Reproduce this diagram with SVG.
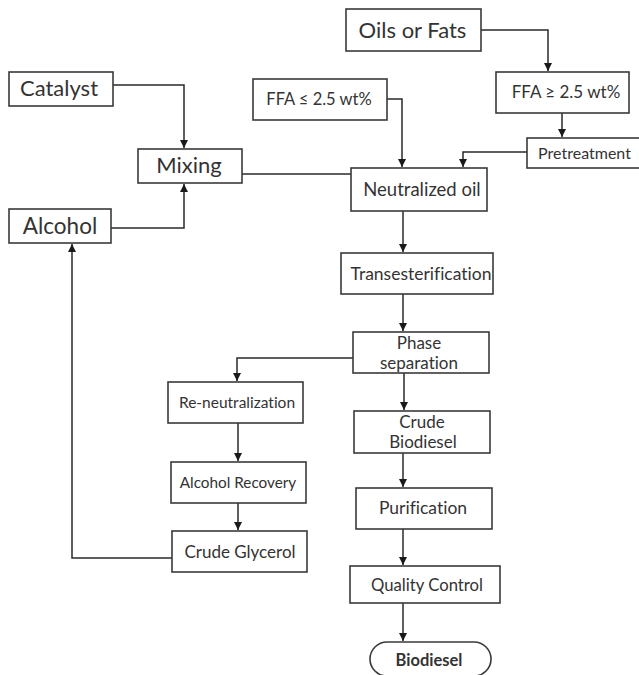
<svg xmlns="http://www.w3.org/2000/svg" width="639" height="675" viewBox="0 0 639 675">
<style>
.box{fill:#fff;stroke:#3a3a3a;stroke-width:1.6}
.t{font-family:Lato,"Open Sans","Liberation Sans",sans-serif;fill:#333;text-anchor:middle;font-variant-ligatures:none}
.c{fill:none;stroke:#2a2a2a;stroke-width:1.5}
</style>
<defs>
<marker id="ah" viewBox="0 0 10 10" refX="10" refY="5" markerWidth="8" markerHeight="8" markerUnits="userSpaceOnUse" orient="auto">
<path d="M0,0 L10,5 L0,10 z" fill="#1a1a1a"/>
</marker>
</defs>
<rect width="639" height="675" fill="#fff"/>
<g id="connectors">
<path class="c" d="M113,85 H184 V148" marker-end="url(#ah)"/>
<path class="c" d="M111,228 H184 V184" marker-end="url(#ah)"/>
<path class="c" d="M242,174 H351"/>
<path class="c" d="M481,30 H548 V71" marker-end="url(#ah)"/>
<path class="c" d="M562,113 V137" marker-end="url(#ah)"/>
<path class="c" d="M527,152 H463 V167" marker-end="url(#ah)"/>
<path class="c" d="M387,99 H402 V167" marker-end="url(#ah)"/>
<path class="c" d="M403,211 V252" marker-end="url(#ah)"/>
<path class="c" d="M403,294 V331" marker-end="url(#ah)"/>
<path class="c" d="M353,358 H237 V381" marker-end="url(#ah)"/>
<path class="c" d="M404,373 V410" marker-end="url(#ah)"/>
<path class="c" d="M238,423 V461" marker-end="url(#ah)"/>
<path class="c" d="M238,503 V530" marker-end="url(#ah)"/>
<path class="c" d="M172,558 H72 V244" marker-end="url(#ah)"/>
<path class="c" d="M403,453 V487" marker-end="url(#ah)"/>
<path class="c" d="M403,529 V565" marker-end="url(#ah)"/>
<path class="c" d="M403,603 V641" marker-end="url(#ah)"/>
</g>
<g id="catalyst"><rect class="box" x="9" y="72" width="104" height="34"/><text class="t" x="59" y="96" font-size="22">Catalyst</text></g>
<g id="mixing"><rect class="box" x="138" y="149" width="104" height="34"/><text class="t" x="189" y="173" font-size="22">Mixing</text></g>
<g id="alcohol"><rect class="box" x="9" y="209" width="102" height="34"/><text class="t" x="60" y="234" font-size="22.5">Alcohol</text></g>
<g id="oils"><rect class="box" x="346" y="9" width="135" height="42"/><text class="t" x="412.5" y="38" font-size="22">Oils or Fats</text></g>
<g id="ffa-low"><rect class="box" x="253" y="79" width="134" height="41"/><text class="t" x="319" y="105" font-size="16.5">FFA ≤ 2.5 wt%</text></g>
<g id="ffa-high"><rect class="box" x="496" y="72" width="133" height="41"/><text class="t" x="566" y="98" font-size="17">FFA ≥ 2.5 wt%</text></g>
<g id="pretreatment"><rect class="box" x="527" y="138" width="116" height="30"/><text class="t" x="584.5" y="159" font-size="16">Pretreatment</text></g>
<g id="neutralized"><rect class="box" x="351" y="168" width="136" height="43"/><text class="t" x="422" y="196" font-size="18.5">Neutralized oil</text></g>
<g id="transesterification"><rect class="box" x="341" y="253" width="152" height="41"/><text class="t" x="421" y="280" font-size="17.5">Transesterification</text></g>
<g id="phase"><rect class="box" x="353" y="332" width="136" height="41"/><text class="t" x="419" y="349" font-size="17">Phase</text><text class="t" x="419" y="369" font-size="17">separation</text></g>
<g id="reneutralization"><rect class="box" x="168" y="382" width="135" height="41"/><text class="t" x="237" y="408" font-size="15.5">Re-neutralization</text></g>
<g id="crude-biodiesel"><rect class="box" x="354" y="411" width="136" height="42"/><text class="t" x="422" y="428" font-size="17">Crude</text><text class="t" x="423" y="448" font-size="17">Biodiesel</text></g>
<g id="alcohol-recovery"><rect class="box" x="171" y="462" width="135" height="41"/><text class="t" x="238" y="488" font-size="15.3">Alcohol Recovery</text></g>
<g id="crude-glycerol"><rect class="box" x="172" y="531" width="135" height="41"/><text class="t" x="240" y="558" font-size="17">Crude Glycerol</text></g>
<g id="purification"><rect class="box" x="356" y="488" width="136" height="41"/><text class="t" x="423" y="514" font-size="17.5">Purification</text></g>
<g id="quality-control"><rect class="box" x="350" y="566" width="150" height="37"/><text class="t" x="427" y="591" font-size="16.7">Quality Control</text></g>
<g id="biodiesel"><rect class="box" x="370" y="642" width="121" height="34" rx="17"/><text class="t" x="429" y="666" font-size="16.5" font-weight="bold">Biodiesel</text></g>
</svg>
